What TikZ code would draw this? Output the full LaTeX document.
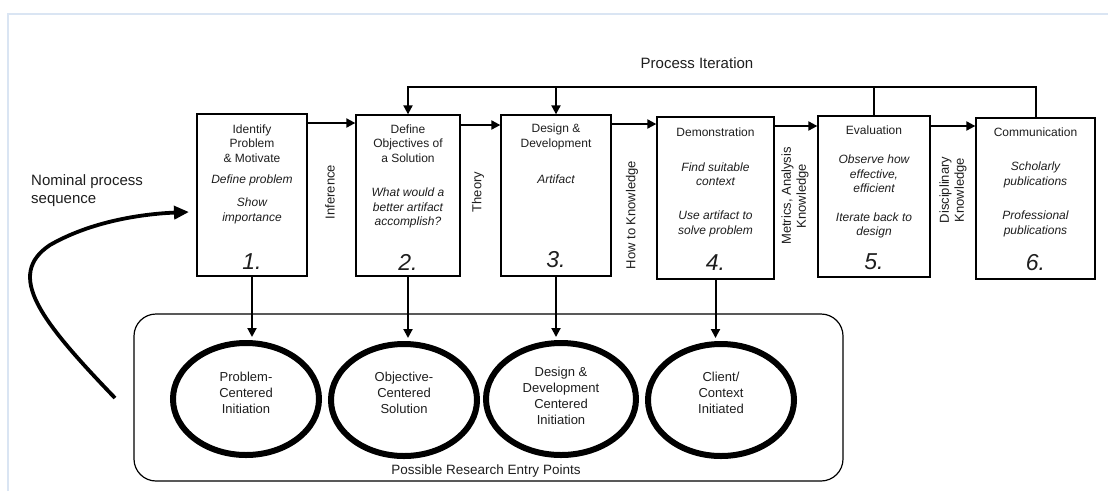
\documentclass[tikz,border=0pt]{standalone}
\usepackage{fontspec}
\setmainfont{Liberation Sans}
\usetikzlibrary{arrows.meta,shapes.geometric}
\definecolor{framec}{RGB}{218,229,243}
\definecolor{ink}{RGB}{30,30,30}
\begin{document}
\begin{tikzpicture}[x=1pt,y=-1pt,
  box/.style={draw, line width=1.3pt, inner sep=0pt},
  arr/.style={line width=2pt, -{Triangle[length=9pt,width=9pt]}},
  lin/.style={line width=2pt},
  ell/.style={draw, ellipse, line width=6pt, inner sep=0pt, minimum width=146pt, minimum height=112pt},
  txt/.style={font=\fontsize{12}{14.5}\selectfont, align=center, inner sep=0pt, text=ink},
  itx/.style={txt, font=\fontsize{12}{14.5}\selectfont\itshape},
  num/.style={font=\fontsize{23}{26}\selectfont\itshape, inner sep=0pt, text=ink},
  side/.style={txt, font=\fontsize{13}{15}\selectfont, rotate=90},
  etx/.style={font=\fontsize{13}{16}\selectfont, align=center, inner sep=0pt, text=ink},
]
\useasboundingbox (0,0) rectangle (1108,491);
\fill[white] (0,0) rectangle (1108,491);
\draw[framec, line width=2pt] (8,491) -- (8,14) -- (1108,14);

% process boxes
\node[box, minimum width=110pt, minimum height=162pt] (b1) at (252,195) {};
\node[box, minimum width=104pt, minimum height=161pt] (b2) at (408,195.5) {};
\node[box, minimum width=110pt, minimum height=161pt] (b3) at (556,195.5) {};
\node[box, minimum width=117pt, minimum height=162pt] (b4) at (715.5,198) {};
\node[box, minimum width=112pt, minimum height=161pt] (b5) at (874,196.5) {};
\node[box, minimum width=119pt, minimum height=161pt] (b6) at (1035.5,198.5) {};

% box 1
\node[txt] (t1a) at (252,143.5) {Identify\\Problem\\\& Motivate};
\node[itx] (t1b) at (252,180) {Define problem};
\node[itx] (t1c) at (252,211) {Show\\importance};
\node[num] (n1) at (252,262) {1.};
% box 2
\node[txt] (t2a) at (408,143.5) {Define\\Objectives of\\a Solution};
\node[itx] (t2b) at (408,208) {What would a\\better artifact\\accomplish?};
\node[num] (n2) at (408,262) {2.};
% box 3
\node[txt] (t3a) at (556,137) {Design \&\\Development};
\node[itx] (t3b) at (556,179) {Artifact};
\node[num] (n3) at (556,260) {3.};
% box 4
\node[txt] (t4a) at (715.5,132) {Demonstration};
\node[itx] (t4b) at (715.5,174) {Find suitable\\context};
\node[itx] (t4c) at (715.5,224) {Use artifact to\\solve problem};
\node[num] (n4) at (715.5,263) {4.};
% box 5
\node[txt] (t5a) at (874,130) {Evaluation};
\node[itx] (t5b) at (874,174) {Observe how\\effective,\\efficient};
\node[itx] (t5c) at (874,225.5) {Iterate back to\\design};
\node[num] (n5) at (874,262) {5.};
% box 6
\node[txt] (t6a) at (1035.5,132) {Communication};
\node[itx] (t6b) at (1035.5,175) {Scholarly\\publications};
\node[itx] (t6c) at (1035.5,224) {Professional\\publications};
\node[num] (n6) at (1035.5,263) {6.};

% side labels
\node[side] (s1) at (330,192) {Inference};
\node[side] (s2) at (478,192) {Theory};
\node[side] (s3) at (632,215) {How to Knowledge};
\node[side] (s4) at (795,196) {Metrics, Analysis\\Knowledge};
\node[side] (s5) at (953,190) {Disciplinary\\Knowledge};

% horizontal arrows
\coordinate (h1) at (0,123);
\coordinate (h2) at (0,125);
\coordinate (h3) at (0,124);
\coordinate (h4) at (0,126);
\coordinate (h5) at (0,126);
\draw[arr] (b1.east |- h1) -- (b2.west |- h1);
\draw[arr] (b2.east |- h2) -- (b3.west |- h2);
\draw[arr] (b3.east |- h3) -- (b4.west |- h3);
\draw[arr] (b4.east |- h4) -- (b5.west |- h4);
\draw[arr] (b5.east |- h5) -- (b6.west |- h5);

% process iteration
\coordinate (top) at (0,87);
\node[font=\fontsize{15}{18}\selectfont, text=ink, inner sep=0pt] (pi) at (697,63) {Process Iteration};
\draw[arr] (b6.north) -- (b6.north |- top) -- (b2.north |- top) -- (b2.north);
\draw[arr] (b3.north |- top) -- (b3.north);
\draw[lin] (b5.north) -- (b5.north |- top);

% entry points
\node[draw, line width=1.2pt, rounded corners=22pt, minimum width=709pt, minimum height=167pt, inner sep=0pt] (entry) at (488.5,397.5) {};
\node[txt, font=\fontsize{13.5}{16}\selectfont] (entryl) at (486,471) {Possible Research Entry Points};

\node[ell] (e1) at (246,399) {};
\node[ell] (e2) at (404,400) {};
\node[ell, minimum width=150pt] (e3) at (561,399) {};
\node[ell] (e4) at (721,400) {};
\node[etx] (e1t) at (246,393) {Problem-\\Centered\\Initiation};
\node[etx] (e2t) at (404,393) {Objective-\\Centered\\Solution};
\node[etx] (e3t) at (561,396) {Design \&\\Development\\Centered\\Initiation};
\node[etx] (e4t) at (721,393) {Client/\\Context\\Initiated};

\draw[arr, shorten >=3pt] (b1.south) -- (b1.south |- e1.north);
\draw[arr, shorten >=3pt] (b2.south) -- (b2.south |- e2.north);
\draw[arr, shorten >=3pt] (b3.south) -- (b3.south |- e3.north);
\draw[arr, shorten >=3pt] (b4.south) -- (b4.south |- e4.north);

% nominal process sequence
\node[font=\fontsize{15}{18}\selectfont, align=left, anchor=west, inner sep=0pt, text=ink] (nps) at (31,191) {Nominal process\\sequence};
\coordinate (cs) at (115,398);
\coordinate (ce) at (189,212);
\draw[line width=3.8pt, -{Triangle[length=15pt,width=13pt]}] (cs) .. controls (40,320) and (5,275) .. (50,245) .. controls (90,222) and (140,214) .. (ce);
\end{tikzpicture}
\end{document}
